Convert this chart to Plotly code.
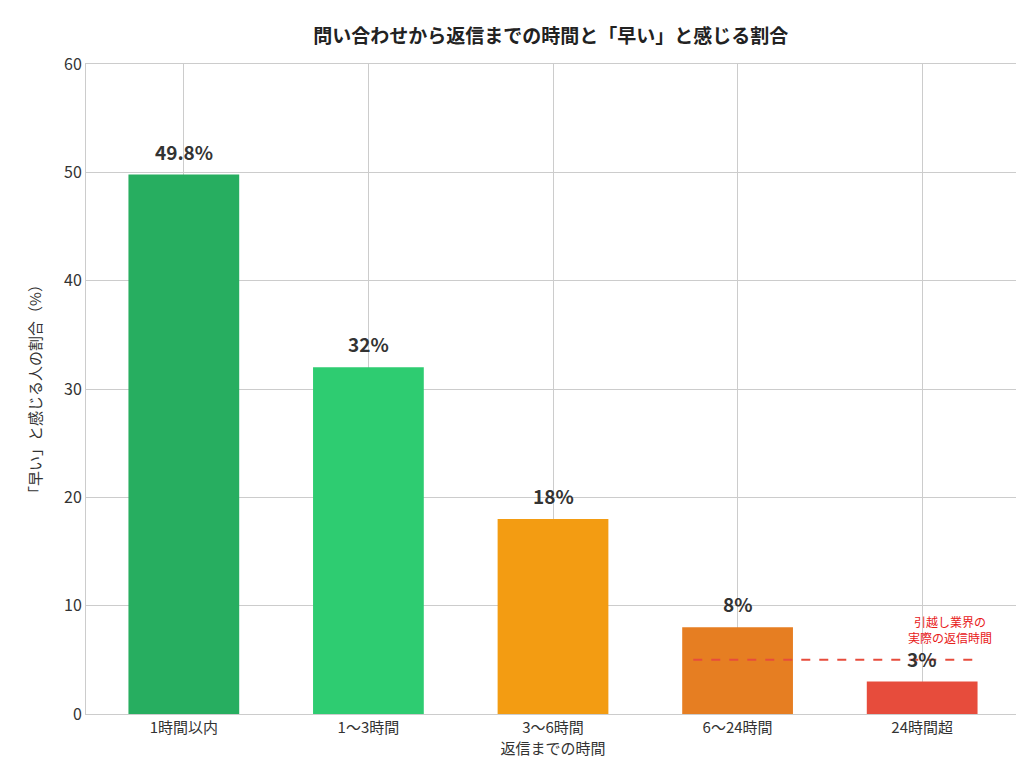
import plotly.graph_objects as go

categories = ["1時間以内", "1〜3時間", "3〜6時間", "6〜24時間", "24時間超"]
values = [49.8, 32, 18, 8, 3]
labels = ["49.8%", "32%", "18%", "8%", "3%"]
colors = ["#27ae60", "#2ecc71", "#f39c12", "#e67e22", "#e74c3c"]

industry_reply = 5  # 引越し業界の実際の返信時間 (level)
line_x = [2.76, 4.28]

font = "Noto Sans CJK JP"

fig = go.Figure()
fig.add_trace(go.Bar(
    x=list(range(len(categories))), y=values, width=0.6,
    marker=dict(color=colors, line=dict(width=0)),
))
for i, (v, lab) in enumerate(zip(values, labels)):
    fig.add_annotation(
        x=i, y=v, text=f"<b>{lab}</b>", showarrow=False, yanchor="bottom",
        yshift=8, font=dict(size=19, color="#333333", family=font),
    )
fig.add_trace(go.Scatter(
    x=line_x, y=[industry_reply] * 2, mode="lines",
    line=dict(color="#e74c3c", dash="dash", width=2),
    hoverinfo="skip",
))
fig.add_annotation(
    x=4.15, y=industry_reply + 1.1, xref="x", yref="y",
    text="引越し業界の<br>実際の返信時間", showarrow=False,
    font=dict(size=12, color="#e8201a", family=font), yanchor="bottom",
)

fig.update_layout(
    width=1024, height=777,
    paper_bgcolor="white", plot_bgcolor="white",
    showlegend=False,
    font=dict(family=font, color="#333333"),
    title=dict(text="<b>問い合わせから返信までの時間と「早い」と感じる割合</b>",
               x=0.53, y=0.972, font=dict(size=19, color="#222222")),
    margin=dict(l=78, r=12, t=56, b=71, autoexpand=False),
    bargap=0.4,
)
fig.update_xaxes(
    tickvals=list(range(len(categories))), ticktext=categories,
    range=[-0.53, 4.53], showgrid=True, gridcolor="#cccccc",
    showline=True, linecolor="#cccccc", mirror=True, automargin=False,
    tickfont=dict(size=15, color="#333333"),
    title=dict(text="返信までの時間", font=dict(size=15), standoff=4),
)
fig.update_yaxes(
    range=[0, 60], dtick=10, showgrid=True, gridcolor="#cccccc",
    showline=True, linecolor="#cccccc", mirror=True, zeroline=False,
    automargin=False,
    tickfont=dict(size=16, color="#333333"),
    title=dict(text="「早い」と感じる人の割合（%）", font=dict(size=15), standoff=18),
)

fig.write_html("out.html")
